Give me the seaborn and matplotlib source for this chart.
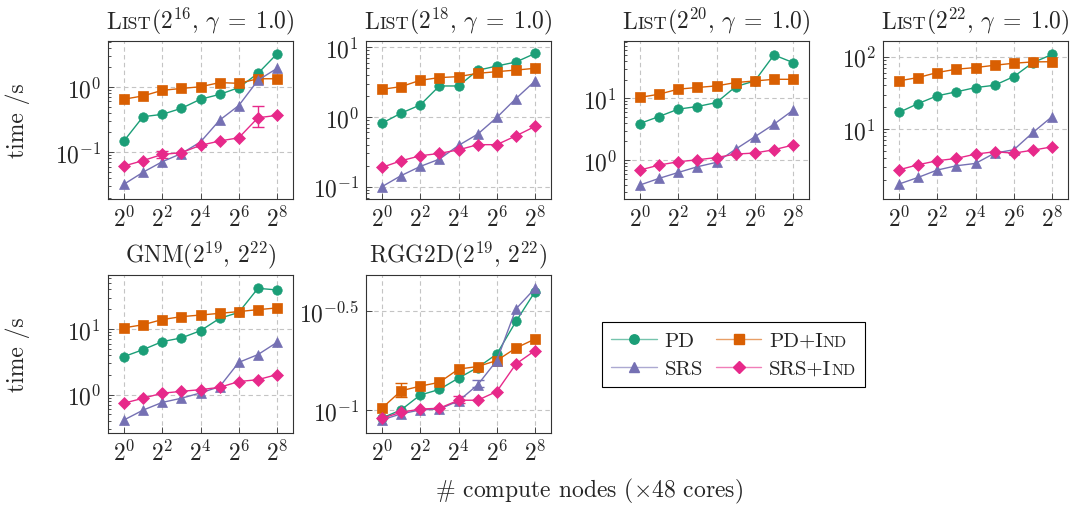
import numpy as np
import pandas as pd
import matplotlib
matplotlib.use("Agg")
import matplotlib.pyplot as plt
import seaborn as sns
from matplotlib.lines import Line2D
from matplotlib.offsetbox import TextArea, HPacker, AnchoredOffsetbox
from matplotlib.ticker import LogLocator, NullLocator, FuncFormatter

nodes = [1, 2, 4, 8, 16, 32, 64, 128, 256]
algos = ["PD", "PD+Ind", "SRS", "SRS+Ind"]

list16_pd = [0.148, 0.35, 0.38, 0.47, 0.65, 0.77, 0.98, 1.62, 3.25]
list16_pdind = [0.65, 0.73, 0.89, 0.95, 1.01, 1.17, 1.14, 1.34, 1.34]
list16_srs = [0.032, 0.049, 0.071, 0.095, 0.143, 0.31, 0.52, 1.27, 1.94]
list16_srsind = [0.061, 0.074, 0.092, 0.098, 0.127, 0.148, 0.166, 0.337, 0.367]

list18_pd = [0.81, 1.13, 1.48, 2.77, 2.77, 4.64, 5.35, 6.1, 8.1]
list18_pdind = [2.48, 2.71, 3.34, 3.65, 3.77, 4.2, 4.44, 4.68, 4.96]
list18_srs = [0.1, 0.144, 0.195, 0.248, 0.39, 0.565, 0.98, 1.83, 3.27]
list18_srsind = [0.189, 0.235, 0.277, 0.30, 0.337, 0.40, 0.40, 0.535, 0.73]

list20_pd = [3.9, 5.06, 6.65, 7.34, 8.5, 15.4, 19.0, 50.0, 37.6]
list20_pdind = [10.3, 11.6, 14.0, 14.9, 15.8, 17.9, 19.0, 20.2, 20.2]
list20_srs = [0.395, 0.506, 0.63, 0.78, 0.92, 1.5, 2.38, 3.8, 6.4]
list20_srsind = [0.69, 0.83, 0.94, 1.01, 1.1, 1.25, 1.3, 1.47, 1.75]

list22_pd = [17.0, 22.5, 28.8, 32.7, 37.4, 40.3, 53.0, 82.7, 107.0]
list22_pdind = [46.3, 51.4, 60.3, 67.0, 70.6, 76.0, 81.0, 84.5, 85.0]
list22_srs = [1.75, 2.16, 2.73, 3.13, 3.37, 4.67, 5.2, 9.0, 14.9]
list22_srsind = [2.75, 3.23, 3.67, 3.95, 4.53, 4.88, 4.67, 5.14, 5.7]

gnm_pd = [3.79, 4.84, 6.41, 7.3, 9.4, 14.5, 17.9, 41.6, 39.3]
gnm_pdind = [10.4, 11.6, 13.9, 15.4, 16.3, 17.3, 18.4, 19.7, 20.9]
gnm_srs = [0.41, 0.58, 0.76, 0.88, 1.06, 1.32, 3.1, 4.07, 6.27]
gnm_srsind = [0.74, 0.88, 1.05, 1.12, 1.19, 1.29, 1.58, 1.69, 2.02]

rgg_pd = [0.091, 0.1, 0.119, 0.127, 0.145, 0.164, 0.192, 0.281, 0.398]
rgg_pdind = [0.102, 0.125, 0.132, 0.138, 0.161, 0.166, 0.178, 0.206, 0.229]
rgg_srs = [0.089, 0.0955, 0.1, 0.101, 0.111, 0.134, 0.178, 0.325, 0.414]
rgg_srsind = [0.0907, 0.0973, 0.101, 0.102, 0.112, 0.112, 0.124, 0.171, 0.2]

# (panel, algo, nodes, low, high) for the error bars that are visible
errbars = [
    ("list16", "SRS+Ind", 4, 0.082, 0.1035),
    ("list16", "SRS+Ind", 128, 0.245, 0.51),
    ("rgg", "PD+Ind", 2, 0.116, 0.137),
    ("rgg", "SRS", 32, 0.130, 0.141),
    ("rgg", "SRS+Ind", 16, 0.108, 0.117),
]

series = {
    "list16": [list16_pd, list16_pdind, list16_srs, list16_srsind],
    "list18": [list18_pd, list18_pdind, list18_srs, list18_srsind],
    "list20": [list20_pd, list20_pdind, list20_srs, list20_srsind],
    "list22": [list22_pd, list22_pdind, list22_srs, list22_srsind],
    "gnm": [gnm_pd, gnm_pdind, gnm_srs, gnm_srsind],
    "rgg": [rgg_pd, rgg_pdind, rgg_srs, rgg_srsind],
}

titles = {
    "list16": [("L", 0), ("IST", 1), (r"$(2^{16},\, \gamma \;=\; 1.0)$", 0)],
    "list18": [("L", 0), ("IST", 1), (r"$(2^{18},\, \gamma \;=\; 1.0)$", 0)],
    "list20": [("L", 0), ("IST", 1), (r"$(2^{20},\, \gamma \;=\; 1.0)$", 0)],
    "list22": [("L", 0), ("IST", 1), (r"$(2^{22},\, \gamma \;=\; 1.0)$", 0)],
    "gnm": [(r"GNM$(2^{19},\, 2^{22})$", 0)],
    "rgg": [(r"RGG2D$(2^{19},\, 2^{22})$", 0)],
}

ylims = {
    "list16": (0.019, 5.1),
    "list18": (0.0667, 12.2),
    "list20": (0.235, 84),
    "list22": (1.09, 164),
    "gnm": (0.26, 66.4),
    "rgg": (0.0764, 0.483),
}

rows = []
for panel, vals in series.items():
    for algo, v in zip(algos, vals):
        for n, t in zip(nodes, v):
            rows.append((panel, algo, n, t))
df = pd.DataFrame(rows, columns=["panel", "algo", "nodes", "time"])

colors = {"PD": "#1b9e77", "PD+Ind": "#d95f02", "SRS": "#7570b3", "SRS+Ind": "#e7298a"}
markers = {"PD": "o", "PD+Ind": "s", "SRS": "^", "SRS+Ind": "D"}
msizes = {"PD": 6.8, "PD+Ind": 6.8, "SRS": 7.3, "SRS+Ind": 5.8}

sns.set_theme(style="ticks")
plt.rcParams.update({
    "font.family": "cmr10",
    "mathtext.fontset": "cm",
    "axes.formatter.use_mathtext": True,
    "axes.edgecolor": "#333333",
    "axes.linewidth": 0.8,
})

FS = 17
LFS = 15
W, H = 1073, 506
fig = plt.figure(figsize=(W / 100, H / 100), dpi=100)


def px_axes(left, top, width=185, height=158):
    return fig.add_axes([left / W, 1 - (top + height) / H, width / W, height / H])


def sc_box(parts, size):
    # small caps faked with a smaller upper case run
    boxes = [TextArea(t, textprops=dict(size=size * 0.77 if small else size, family="cmr10"))
             for t, small in parts]
    return HPacker(children=boxes, align="baseline", pad=0, sep=0)


def sc_title(ax, parts, size=FS):
    ab = AnchoredOffsetbox(loc="lower center", child=sc_box(parts, size), pad=0, borderpad=0,
                           frameon=False, bbox_to_anchor=(0.5, 1.03), bbox_transform=ax.transAxes)
    ax.add_artist(ab)


positions = {
    "list16": (108, 42), "list18": (366, 42), "list20": (624, 42), "list22": (883, 42),
    "gnm": (108, 276), "rgg": (366, 276),
}

for panel, (left, top) in positions.items():
    ax = px_axes(left, top)
    sub = df[df["panel"] == panel]
    sns.lineplot(data=sub, x="nodes", y="time", hue="algo", style="algo",
                 hue_order=algos, style_order=algos, palette=colors, markers=markers,
                 dashes=False, linewidth=1, errorbar=None, legend=False, ax=ax)
    for line, algo in zip(ax.lines, algos):
        line.set_markeredgecolor(line.get_color())
        line.set_markeredgewidth(0.5)
        line.set_markersize(msizes[algo])
    for p, algo, n, lo, hi in errbars:
        if p != panel:
            continue
        y = sub[(sub["algo"] == algo) & (sub["nodes"] == n)]["time"].iloc[0]
        ax.errorbar([n], [y], yerr=[[y - lo], [hi - y]], fmt="none", ecolor=colors[algo],
                    elinewidth=1, capsize=4, capthick=1, zorder=1)

    ax.set_xscale("log", base=2)
    ax.set_xlim(2 ** -0.83, 2 ** 8.83)
    ax.set_xticks([1, 4, 16, 64, 256], [r"$2^{0}$", r"$2^{2}$", r"$2^{4}$", r"$2^{6}$", r"$2^{8}$"])
    ax.xaxis.set_minor_locator(NullLocator())

    ax.set_yscale("log")
    ax.set_ylim(*ylims[panel])
    if panel == "rgg":
        ax.set_yticks([10 ** -1, 10 ** -0.5], [r"$10^{-1}$", r"$10^{-0.5}$"])
        ax.yaxis.set_minor_locator(NullLocator())
    else:
        ax.yaxis.set_major_locator(LogLocator(base=10))
        ax.yaxis.set_minor_locator(LogLocator(base=10, subs=np.arange(2, 10)))
        ax.yaxis.set_major_formatter(FuncFormatter(lambda v, p: f"$10^{{{int(round(np.log10(v)))}}}$"))
        ax.yaxis.set_minor_formatter(FuncFormatter(lambda v, p: ""))

    ax.grid(True, which="major", color="#c4c4c4", linestyle=(0, (4, 3)), linewidth=0.8)
    ax.tick_params(which="both", direction="in", top=False, right=False, labelsize=FS,
                   width=0.6, color="#333333")
    ax.tick_params(which="major", length=4, pad=5)
    ax.tick_params(which="minor", length=2.2)
    ax.set_xlabel("")
    ax.set_ylabel("")
    sc_title(ax, titles[panel])

fig.text(0.017, 1 - 121 / H, "time /s", rotation=90, ha="center", va="center", fontsize=FS)
fig.text(0.017, 1 - 355 / H, "time /s", rotation=90, ha="center", va="center", fontsize=FS)
fig.text(0.549, 1 - 491 / H, r"$\#$ compute nodes ($\times$48 cores)", ha="center", va="center",
         fontsize=FS)

# legend; the "ND" tail of Ind is swapped in as a smaller run next to "PD+I" / "SRS+I"
order = ["PD", "SRS", "PD+Ind", "SRS+Ind"]
handles = [Line2D([], [], color=matplotlib.colors.to_rgba(colors[a], 0.6), lw=1, marker=markers[a],
                  markersize=msizes[a], markerfacecolor=colors[a], markeredgecolor=colors[a])
           for a in order]
labels = ["PD", "SRS", "PD+I", "SRS+I"]
leg = fig.legend(handles, labels, ncol=2, loc="upper left", bbox_to_anchor=(602 / W, 1 - 323 / H),
                 borderaxespad=0, frameon=True, fancybox=False, edgecolor="black", framealpha=1,
                 fontsize=LFS, handlelength=2.2, handletextpad=0.36, columnspacing=0.6,
                 labelspacing=0.45, borderpad=0.45)
leg.get_frame().set_linewidth(0.8)

handle_box = leg.get_children()[0].get_children()[1]
for col in handle_box.get_children():
    for row in col.get_children():
        kids = row.get_children()
        ta = kids[1]
        if ta.get_text().endswith("+I"):
            tail = TextArea("ND", textprops=dict(size=LFS * 0.77, family="cmr10"))
            kids[1] = HPacker(children=[ta, tail], align="baseline", pad=0, sep=0)
            kids[1].set_figure(fig)

fig.savefig("out.png", dpi=100)
